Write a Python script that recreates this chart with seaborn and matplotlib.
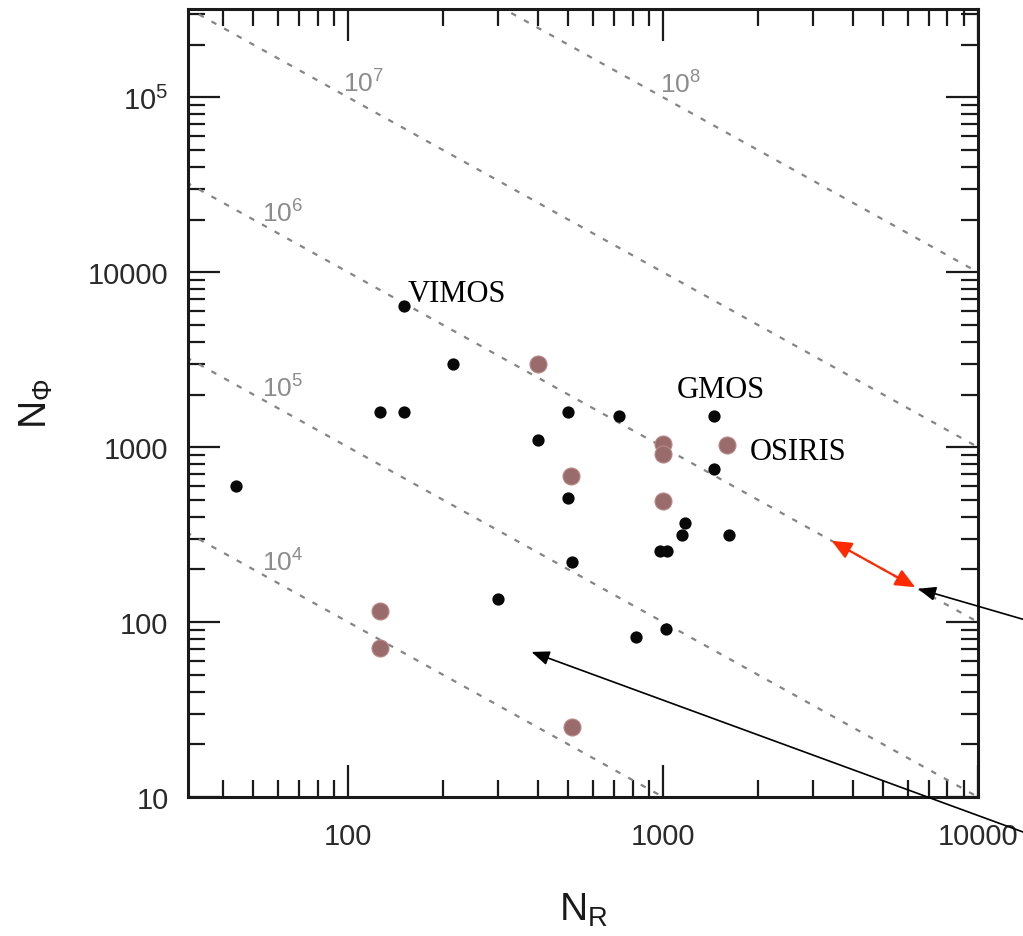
import numpy as np
import pandas as pd
import matplotlib
matplotlib.use("Agg")
import matplotlib.pyplot as plt
import seaborn as sns
from matplotlib.ticker import LogLocator, FuncFormatter, NullFormatter

# Instruments: spectral resolution elements (N_R) vs spatial elements (N_phi)
black_nr = [44, 150, 216, 126, 150, 500, 400, 500, 515, 300,
            725, 1450, 1450, 1175, 1150, 980, 1030, 1620, 820, 1020]
black_nphi = [600, 6400, 3000, 1580, 1580, 1580, 1100, 510, 220, 135,
              1500, 1500, 750, 370, 315, 255, 255, 315, 82, 91]

brown_nr = [400, 510, 1000, 1000, 1600, 1000, 126, 126, 512]
brown_nphi = [3000, 680, 1040, 910, 1030, 490, 116, 71, 25]

# Lines of constant N_R * N_phi
product_levels = [1e4, 1e5, 1e6, 1e7, 1e8]
product_exponents = [4, 5, 6, 7, 8]

# Named instruments and the points they refer to
inst_names = ["VIMOS", "GMOS", "OSIRIS"]
inst_nr = [150, 1450, 1600]
inst_nphi = [6400, 1500, 1030]

# Span along the 10^6 line marked by the red double arrow
span_level = 1e6
span_nr = [3430, 6320]
# Target of the second pointer
pointer_nr, pointer_nphi = 382, 67.5

x_ticks = [100, 1000, 10000]
y_ticks = [10, 100, 1000, 10000, 100000]

sns.set_style("white")
plt.rcParams["font.family"] = ["Liberation Sans", "DejaVu Sans"]

fig = plt.figure(figsize=(10.23, 9.37), dpi=100)
ax = fig.add_axes([188 / 1023, 1 - 798 / 937, 790 / 1023, 788 / 937])
ax.set_xscale("log")
ax.set_yscale("log")

xlim = (31, 10000)
ylim = (10, 3.2e5)

# dashed iso-product lines
nr_grid = np.geomspace(xlim[0] * 0.9, xlim[1] * 1.1, 300)
for lvl in product_levels:
    sns.lineplot(x=nr_grid, y=lvl / nr_grid, ax=ax, color="#858585",
                 lw=1.6, linestyle=(0, (2.5, 4.0)), zorder=1)

# line labels
label_nr = [62, 62, 62, 112, 1140]
for lvl, ex, lx in zip(product_levels, product_exponents, label_nr):
    ax.text(lx, 1.36 * lvl / lx, rf"$\mathregular{{10^{ex}}}$",
            color="#8c8c8c", fontsize=19, ha="center", va="center", zorder=2)

pts_black = pd.DataFrame({"NR": black_nr, "Nphi": black_nphi})
pts_brown = pd.DataFrame({"NR": brown_nr, "Nphi": brown_nphi})
sns.scatterplot(data=pts_brown, x="NR", y="Nphi", ax=ax, s=150,
                color="#9a6b6b", edgecolor="#b98a8a", linewidth=0.8, zorder=3)
sns.scatterplot(data=pts_black, x="NR", y="Nphi", ax=ax, s=78,
                color="#080808", linewidth=0, zorder=4)

# instrument names
inst_offsets = [(3, 4), (-27, 14), (16, -10)]
for name, nx, ny, off in zip(inst_names, inst_nr, inst_nphi, inst_offsets):
    ax.annotate(name, xy=(nx, ny), xytext=off, textcoords="offset points",
                fontsize=22, family="Liberation Serif", color="black",
                ha="left", va="baseline", zorder=5)

# red double arrow along the 10^6 line
ax.annotate("", xy=(span_nr[0], span_level / span_nr[0]),
            xytext=(span_nr[1], span_level / span_nr[1]),
            arrowprops=dict(arrowstyle="<|-|>,head_length=0.5,head_width=0.22",
                            color="#ff2a00", lw=1.6, mutation_scale=24,
                            shrinkA=0, shrinkB=0),
            annotation_clip=False, zorder=6)

# black pointers coming in from the right edge
ax.annotate("", xy=(span_nr[1] * 1.02, span_level / (span_nr[1] * 1.02)),
            xytext=(1.0, 0.338), textcoords="figure fraction",
            arrowprops=dict(arrowstyle="-|>,head_length=0.45,head_width=0.18",
                            color="black", lw=1.2, mutation_scale=24,
                            shrinkA=0, shrinkB=0),
            annotation_clip=False, zorder=6)
ax.annotate("", xy=(pointer_nr, pointer_nphi),
            xytext=(1.0, 0.111), textcoords="figure fraction",
            arrowprops=dict(arrowstyle="-|>,head_length=0.45,head_width=0.18",
                            color="black", lw=1.2, mutation_scale=24,
                            shrinkA=0, shrinkB=0),
            annotation_clip=False, zorder=6)

ax.set_xlim(*xlim)
ax.set_ylim(*ylim)

ax.xaxis.set_minor_locator(LogLocator(base=10, subs=np.arange(2, 10), numticks=30))
ax.yaxis.set_minor_locator(LogLocator(base=10, subs=np.arange(2, 10), numticks=30))
ax.xaxis.set_minor_formatter(NullFormatter())
ax.yaxis.set_minor_formatter(NullFormatter())
ax.set_xticks(x_ticks)
ax.set_yticks(y_ticks)
ax.xaxis.set_major_formatter(FuncFormatter(lambda v, p: f"{int(round(v))}"))


def yfmt(v, p):
    e = int(round(np.log10(v)))
    return f"{int(round(v))}" if e <= 4 else rf"$\mathregular{{10^{e}}}$"


ax.yaxis.set_major_formatter(FuncFormatter(yfmt))

ax.tick_params(which="both", direction="in", top=True, right=True,
               bottom=True, left=True,
               colors="#1a1a1a", labelcolor="#2a2a2a")
ax.tick_params(which="major", length=23, width=1.6)
ax.tick_params(which="minor", length=12, width=1.6)
ax.tick_params(axis="x", which="major", labelsize=21, pad=18)
ax.tick_params(axis="y", which="major", labelsize=21, pad=14)

for sp in ax.spines.values():
    sp.set_linewidth(2.2)
    sp.set_color("#1a1a1a")

ax.set_xlabel(r"$\mathregular{N_R}$", fontsize=28, color="#1a1a1a")
ax.set_ylabel(r"$\mathregular{N_Φ}$", fontsize=28, color="#1a1a1a")
ax.xaxis.set_label_coords(0.5, -0.119)
ax.yaxis.set_label_coords(-0.168, 0.5)

fig.savefig("out.png", dpi=100)
